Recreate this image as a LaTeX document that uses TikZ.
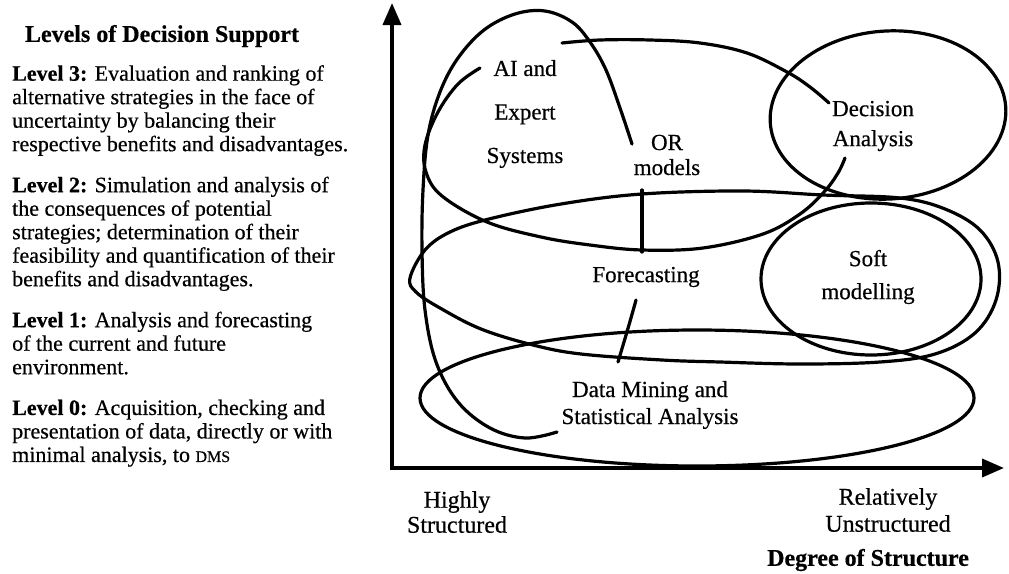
\documentclass[tikz,border=0pt]{standalone}
\usepackage{fontspec}
\setmainfont{Liberation Serif}[FakeBold=0.5]
\usetikzlibrary{arrows.meta}
\begin{document}
\begin{tikzpicture}[x=1pt, y=-1pt,
  curve/.style={line width=3.2pt, line cap=round, line join=round},
  axisline/.style={line width=3.8pt, -{Triangle[length=22pt,width=18pt]}},
  body/.style={inner sep=0pt, anchor=north west, align=left, font=\fontsize{22}{23.5}\selectfont},
  lbl/.style={inner sep=0pt, align=center},
]
\useasboundingbox (0,0) rectangle (1009,573);

% ---- left column: levels of decision support ----
\node[inner sep=0pt, font=\bfseries\fontsize{24}{24}\selectfont] (title) at (162,36) {Levels of Decision Support};
\node[body] (lv3) at (12,65) {\textbf{Level 3:} Evaluation and ranking of\\alternative strategies in the face of\\uncertainty by balancing their\\respective benefits and disadvantages.};
\node[body] (lv2) at (12,176.5) {\textbf{Level 2:} Simulation and analysis of\\the consequences of potential\\strategies; determination of their\\feasibility and quantification of their\\benefits and disadvantages.};
\node[body] (lv1) at (12,311.5) {\textbf{Level 1:} Analysis and forecasting\\of the current and future\\environment.};
\node[body] (lv0) at (12,399.5) {\textbf{Level 0:} Acquisition, checking and\\presentation of data, directly or with\\minimal analysis, to {\fontsize{16}{16}\selectfont DMS}};

% ---- axes ----
\coordinate (origin) at (392,468);
\coordinate (ytip) at (392,3);
\coordinate (xtip) at (1004,468);
\draw[axisline] (392,470) -- (ytip);
\draw[axisline] (390,468) -- (xtip);

% ---- AI and expert systems (tall open loop) ----
\draw[curve] plot[smooth, tension=0.6] coordinates {
  (632,144) (620,108) (606,70) (590,42) (572,22) (545,11) (515,14) (484,30)
  (458,58) (440,92) (428,135) (423,190) (422,250) (425,310) (436,362)
  (458,402) (490,428) (525,438) (557,432)};

% ---- OR models (two open arcs) ----
\draw[curve] plot[smooth, tension=0.6] coordinates {
  (562,43) (600,40) (650,40) (700,43) (747,53) (787,72) (810,87) (829,103)};
\draw[curve] plot[smooth, tension=0.6] coordinates {
  (480,68) (458,84) (438,112) (425,145) (426,172) (442,196) (487,222)
  (541,237) (590,245) (642,250) (703,248) (763,234) (800,214) (824,192)
  (838,173) (845,158)};

% ---- decision analysis ----
\draw[curve] plot[domain=0:360, samples=120, variable=\t]
  ({888 + 118*cos(\t)*cos(-4) - 84*sin(\t)*sin(-4)},
   {115 + 118*cos(\t)*sin(-4) + 84*sin(\t)*cos(-4)}) -- cycle;

% ---- forecasting ----
\draw[curve] plot[smooth cycle, tension=0.6] coordinates {
  (410,278) (425,250) (450,232) (489,219) (561,204) (642,194) (743,191)
  (823,195) (900,198) (945,209) (980,230) (998,262) (996,300) (975,333)
  (935,354) (880,362) (800,364) (720,362) (662,360) (581,354) (533,345)
  (481,329) (440,308) (416,292)};

% ---- soft modelling ----
\draw[curve] (871,279) ellipse[x radius=110, y radius=76];

% ---- data mining and statistical analysis ----
\draw[curve] (697,398) ellipse[x radius=277, y radius=68];

% ---- links between levels ----
\coordinate (ortop) at (642,190);
\coordinate (orbot) at (642,252);
\draw[curve] (ortop) -- (orbot);
\coordinate (fctop) at (636,300);
\coordinate (fcbot) at (618,362);
\draw[curve] (fctop) .. controls (630,322) and (624,342) .. (fcbot);

% ---- labels ----
\node[lbl, font=\fontsize{23}{43.5}\selectfont] (ai) at (525,114) {AI and\\Expert\\Systems};
\node[lbl, font=\fontsize{23}{25}\selectfont] (or) at (667,155) {OR\\models};
\node[lbl, font=\fontsize{23}{30}\selectfont] (da) at (873,126) {Decision\\Analysis};
\node[lbl, font=\fontsize{23}{23}\selectfont] (fc) at (646,277) {Forecasting};
\node[lbl, font=\fontsize{23}{33}\selectfont] (soft) at (868,277) {Soft\\modelling};
\node[lbl, font=\fontsize{23}{27}\selectfont] (dm) at (650,405) {Data Mining and\\Statistical Analysis};
\node[lbl, font=\fontsize{24}{25}\selectfont] (hs) at (457,512) {Highly\\Structured};
\node[lbl, font=\fontsize{24}{27}\selectfont] (ru) at (888,510) {Relatively\\Unstructured};
\node[lbl, font=\bfseries\fontsize{24}{24}\selectfont] (deg) at (868,560) {Degree of Structure};
\end{tikzpicture}
\end{document}
